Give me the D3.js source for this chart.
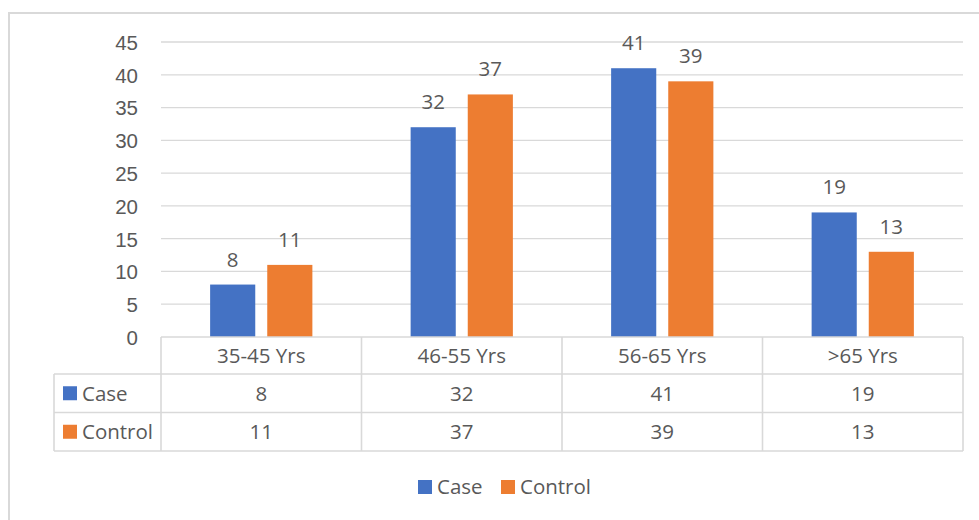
<!DOCTYPE html>
<html>
<head>
<meta charset="utf-8">
<script src="https://cdn.jsdelivr.net/npm/d3@7"></script>
<style>
  html, body { margin: 0; padding: 0; background: #fff; }
  svg { display: block; font-family: "Open Sans", "Noto Sans", sans-serif; }
  text { fill: #595959; }
</style>
</head>
<body>
<svg id="chart" width="979" height="520"></svg>
<script>
// Age groups and counts per group
const categories = ["35-45 Yrs", "46-55 Yrs", "56-65 Yrs", ">65 Yrs"];
const seriesNames = ["Case", "Control"];
const caseValues = [8, 32, 41, 19];
const controlValues = [11, 37, 39, 13];
const yTicks = [0, 5, 10, 15, 20, 25, 30, 35, 40, 45];

const colors = { Case: "#4472C4", Control: "#ED7D31" };
const seriesValues = { Case: caseValues, Control: controlValues };

const svg = d3.select("#chart");
const gridColor = "#d9d9d9";
const fontSize = 20.5;

// Chart frame
svg.append("rect")
  .attr("x", 9).attr("y", 13)
  .attr("width", 1100).attr("height", 700)
  .attr("fill", "none").attr("stroke", gridColor).attr("stroke-width", 2);

const plot = { left: 161, right: 963, top: 42, bottom: 337 };

const x0 = d3.scaleBand().domain(categories).range([plot.left, plot.right]).padding(0);
const x1 = d3.scaleBand().domain(seriesNames).range([0, x0.bandwidth()])
  .paddingInner(0.21).paddingOuter(0.86);
const y = d3.scaleLinear().domain([0, 45]).range([plot.bottom, plot.top]);

// Horizontal gridlines
svg.append("g").selectAll("line")
  .data(yTicks.filter(t => t > 0))
  .join("line")
  .attr("x1", plot.left).attr("x2", plot.right)
  .attr("y1", d => y(d)).attr("y2", d => y(d))
  .attr("stroke", gridColor).attr("stroke-width", 1.3);

// Value axis labels
const yAxis = d3.axisLeft(y).tickValues(yTicks).tickSize(0).tickPadding(23);
const yg = svg.append("g").attr("transform", `translate(${plot.left},0)`).call(yAxis);
yg.select(".domain").remove();
yg.selectAll("text")
  .attr("font-size", fontSize).attr("font-family", null)
  .attr("fill", "#595959").attr("dy", "0.36em");

// Bars and data labels
const rows = categories.map((c, i) => ({ category: c, i }));
const groups = svg.append("g").selectAll("g")
  .data(rows).join("g")
  .attr("transform", d => `translate(${x0(d.category)},0)`);

groups.selectAll("rect")
  .data(d => seriesNames.map(s => ({ s, v: seriesValues[s][d.i] })))
  .join("rect")
  .attr("x", d => x1(d.s))
  .attr("width", x1.bandwidth())
  .attr("y", d => y(d.v))
  .attr("height", d => y(0) - y(d.v))
  .attr("fill", d => colors[d.s]);

groups.selectAll("text.lbl")
  .data(d => seriesNames.map(s => ({ s, v: seriesValues[s][d.i] })))
  .join("text")
  .attr("class", "lbl")
  .attr("x", d => x1(d.s) + x1.bandwidth() / 2)
  .attr("y", d => y(d.v) - 18)
  .attr("text-anchor", "middle")
  .attr("font-size", fontSize)
  .text(d => d.v);

// Data table under the plot
const table = { left: 54, headerBottom: 374, rowBottoms: [412.5, 451] };
const tg = svg.append("g").attr("stroke", gridColor).attr("stroke-width", 1.6).attr("fill", "none");

// axis baseline / top of header row
tg.append("line").attr("x1", plot.left).attr("x2", plot.right)
  .attr("y1", y(0)).attr("y2", y(0));
// row separators
[table.headerBottom, ...table.rowBottoms].forEach(yy => {
  tg.append("line").attr("x1", table.left).attr("x2", plot.right)
    .attr("y1", yy).attr("y2", yy);
});
// column separators
const colEdges = categories.map(c => x0(c)).concat([plot.right]);
colEdges.forEach(xx => {
  tg.append("line").attr("x1", xx).attr("x2", xx)
    .attr("y1", y(0)).attr("y2", table.rowBottoms[1]);
});
tg.append("line").attr("x1", table.left).attr("x2", table.left)
  .attr("y1", table.headerBottom).attr("y2", table.rowBottoms[1]);

// header labels
svg.append("g").selectAll("text")
  .data(categories).join("text")
  .attr("x", d => x0(d) + x0.bandwidth() / 2)
  .attr("y", (y(0) + table.headerBottom) / 2)
  .attr("dy", "0.36em")
  .attr("text-anchor", "middle")
  .attr("font-size", fontSize)
  .text(d => d);

// series rows
const rowTops = [table.headerBottom, table.rowBottoms[0]];
seriesNames.forEach((s, r) => {
  const top = rowTops[r], bottom = table.rowBottoms[r];
  const cy = (top + bottom) / 2;
  svg.append("rect")
    .attr("x", 63).attr("y", cy - 7)
    .attr("width", 14).attr("height", 14)
    .attr("fill", colors[s]);
  svg.append("text")
    .attr("x", 82).attr("y", cy).attr("dy", "0.36em")
    .attr("font-size", fontSize)
    .text(s);
  svg.append("g").selectAll("text")
    .data(seriesValues[s]).join("text")
    .attr("x", (d, i) => x0(categories[i]) + x0.bandwidth() / 2)
    .attr("y", cy).attr("dy", "0.36em")
    .attr("text-anchor", "middle")
    .attr("font-size", fontSize)
    .text(d => d);
});

// Legend
const legendItems = [{ s: "Case", x: 418 }, { s: "Control", x: 501 }];
const lg = svg.append("g");
legendItems.forEach(it => {
  lg.append("rect").attr("x", it.x).attr("y", 480)
    .attr("width", 14).attr("height", 14).attr("fill", colors[it.s]);
  lg.append("text").attr("x", it.x + 19).attr("y", 487).attr("dy", "0.36em")
    .attr("font-size", fontSize).text(it.s);
});
</script>
</body>
</html>
